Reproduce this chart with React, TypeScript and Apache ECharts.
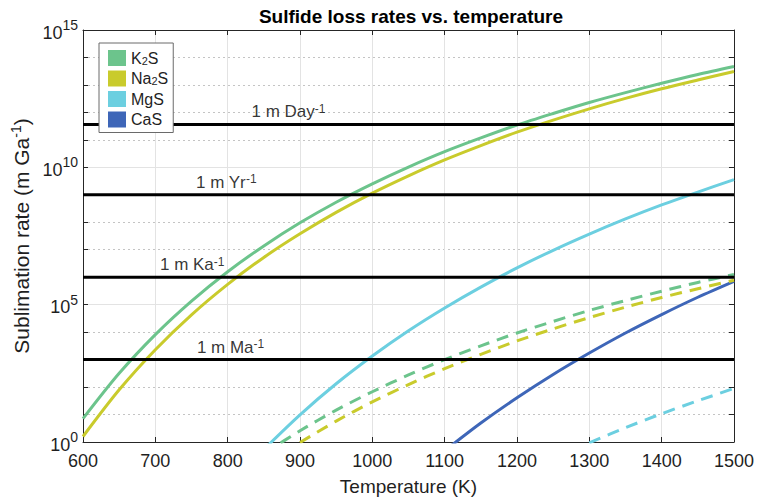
import React, { useEffect, useRef } from "react";
import * as echarts from "echarts";

// Temperatures (K)
const temps = [600, 650, 700, 750, 800, 850, 900, 950, 1000, 1050, 1100, 1150, 1200, 1250, 1300, 1350, 1400, 1450, 1500];
// log10 of sublimation rate (m Ga^-1)
const k2sLog = [0.85, 2.5, 3.91, 5.13, 6.2, 7.14, 7.98, 8.73, 9.4, 10.01, 10.57, 11.07, 11.54, 11.96, 12.36, 12.72, 13.06, 13.38, 13.67];
const na2sLog = [0.2, 1.9, 3.36, 4.63, 5.74, 6.72, 7.58, 8.36, 9.06, 9.69, 10.27, 10.79, 11.28, 11.72, 12.13, 12.51, 12.86, 13.18, 13.49];

const mgsTemps = [850, 900, 950, 1000, 1050, 1100, 1150, 1200, 1250, 1300, 1350, 1400, 1450, 1500];
const mgsLog = [-0.27, 0.99, 2.12, 3.13, 4.05, 4.88, 5.64, 6.34, 6.98, 7.57, 8.12, 8.63, 9.1, 9.55];

const casTemps = [1100, 1150, 1200, 1250, 1300, 1350, 1400, 1450, 1500];
const casLog = [-0.32, 0.69, 1.61, 2.46, 3.24, 3.97, 4.64, 5.27, 5.85];

const k2sDashTemps = [850, 900, 950, 1000, 1050, 1100, 1150, 1200, 1250, 1300, 1350, 1400, 1450, 1500];
const k2sDashLog = [-0.43, 0.41, 1.16, 1.83, 2.44, 3.0, 3.5, 3.97, 4.39, 4.79, 5.15, 5.49, 5.81, 6.1];

const na2sDashTemps = [900, 950, 1000, 1050, 1100, 1150, 1200, 1250, 1300, 1350, 1400, 1450, 1500];
const na2sDashLog = [-0.02, 0.76, 1.46, 2.09, 2.67, 3.19, 3.68, 4.12, 4.53, 4.91, 5.26, 5.58, 5.89];

const mgsDashTemps = [1300, 1350, 1400, 1450, 1500];
const mgsDashLog = [-0.03, 0.52, 1.03, 1.5, 1.95];

// Reference rates
const refNames = ["Day", "Yr", "Ka", "Ma"];
const refValues = [3.6525e11, 1e9, 1e6, 1e3];
const refLabelTemps = [884, 798, 751, 804];

const legendNames = ["K2S", "Na2S", "MgS", "CaS"];
const colors = { K2S: "#6cc48c", Na2S: "#c9cb2c", MgS: "#6ccfe0", CaS: "#3e66b8" };

const FONT = "'Liberation Sans', Arial, Helvetica, sans-serif";
const TXT = "#1f1f1f";

function pts(ts: number[], logs: number[]) {
  return ts.map((t, i) => [t, Math.pow(10, logs[i])]);
}

export default function App() {
  const ref = useRef<HTMLDivElement>(null);
  useEffect(() => {
    if (!ref.current) return;
    const chart = echarts.init(ref.current, undefined, { renderer: "svg" });

    const curve = (name: string, color: string, data: number[][], dashed: boolean) => ({
      name,
      type: "line",
      data,
      smooth: 0.3,
      symbol: "none",
      clip: true,
      z: 2,
      lineStyle: { color, width: 3, type: dashed ? [12, 8] : "solid" },
      itemStyle: { color },
      emphasis: { disabled: true },
    });

    const refLines = refValues.map((v, i) => ({
      name: "ref" + refNames[i],
      type: "line",
      data: [[600, v], [1500, v]],
      symbol: "none",
      z: 3,
      lineStyle: { color: "#000", width: 3 },
      emphasis: { disabled: true },
    }));

    const refLabels = {
      name: "refLabels",
      type: "scatter",
      symbolSize: 1,
      z: 4,
      itemStyle: { color: "rgba(0,0,0,0)" },
      data: refValues.map((v, i) => ({
        value: [refLabelTemps[i], v],
        label: {
          show: true,
          position: "top",
          distance: 3,
          formatter: `{a|1 m ${refNames[i]}}{s|-1}`,
          rich: {
            a: { fontSize: 17, lineHeight: 18, color: "#000", fontFamily: FONT },
            s: { fontSize: 12, lineHeight: 11, verticalAlign: "top", color: "#000", fontFamily: FONT },
          },
        },
      })),
    };

    const xCommon = {
      type: "value",
      min: 600,
      max: 1500,
      interval: 100,
      axisLine: { show: true, lineStyle: { color: "#262626", width: 1 } },
      axisTick: { show: true, inside: true, length: 5, lineStyle: { color: "#262626" } },
    };
    const yCommon = {
      type: "log",
      logBase: 10,
      min: 1,
      max: 1e15,
    };

    chart.setOption({
      animation: false,
      textStyle: { fontFamily: FONT },
      grid: { left: 83, right: 19, top: 30, bottom: 58, containLabel: false },
      graphic: [
        {
          type: "text",
          x: 411,
          y: 16,
          style: {
            text: "Sulfide loss rates vs. temperature",
            align: "center",
            verticalAlign: "middle",
            font: `bold 19px ${FONT}`,
            fill: "#000",
          },
        },
      ],
      legend: {
        data: legendNames,
        orient: "vertical",
        left: 99,
        top: 43,
        padding: [7, 5, 5, 9],
        itemGap: 4.5,
        itemWidth: 18,
        itemHeight: 16,
        icon: "rect",
        backgroundColor: "#fff",
        borderColor: "#6a6a6a",
        borderWidth: 1,
        selectedMode: false,
        formatter: (name: string) => {
          const m: Record<string, string> = {
            K2S: "{a|K}{b|2}{a|S}",
            Na2S: "{a|Na}{b|2}{a|S}",
            MgS: "{a|MgS}",
            CaS: "{a|CaS}",
          };
          return m[name];
        },
        textStyle: {
          color: TXT,
          rich: {
            a: { fontSize: 16, lineHeight: 16, color: TXT, fontFamily: FONT },
            b: { fontSize: 11, lineHeight: 7, verticalAlign: "bottom", color: TXT, fontFamily: FONT },
          },
        },
      },
      xAxis: [
        {
          ...xCommon,
          position: "bottom",
          name: "Temperature (K)",
          nameLocation: "middle",
          nameGap: 35,
          nameTextStyle: { fontSize: 19, color: TXT, fontFamily: FONT },
          axisLabel: { fontSize: 18, color: TXT, margin: 10, fontFamily: FONT, formatter: (v: number) => String(v) },
          splitLine: { show: true, lineStyle: { color: "#e3e3e3", width: 1 } },
        },
        {
          ...xCommon,
          position: "top",
          axisLabel: { show: false },
          splitLine: { show: false },
        },
      ],
      yAxis: [
        {
          ...yCommon,
          interval: 1,
          position: "left",
          name: "{a|Sublimation rate (m Ga}{s|-1}{a|)}",
          nameLocation: "middle",
          nameGap: 49,
          nameTextStyle: {
            rich: {
              a: { fontSize: 21, lineHeight: 24, color: TXT, fontFamily: FONT },
              s: { fontSize: 14, lineHeight: 12, verticalAlign: "top", color: TXT, fontFamily: FONT },
            },
          },
          axisLine: { show: true, lineStyle: { color: "#262626", width: 1 } },
          axisTick: { show: true, inside: true, length: 5, lineStyle: { color: "#262626" } },
          axisLabel: {
            margin: 5,
            formatter: (v: number) => {
              const e = Math.round(Math.log10(v));
              return e % 5 === 0 ? `{b|10}{s|${e}}` : "";
            },
            rich: {
              b: { fontSize: 18, lineHeight: 24, color: TXT, fontFamily: FONT, padding: [5, 0, 0, 0] },
              s: { fontSize: 14, lineHeight: 13, verticalAlign: "top", color: TXT, fontFamily: FONT },
            },
          },
          splitLine: { show: true, lineStyle: { color: "#c4c4c4", width: 1, type: [2, 3] } },
        },
        {
          ...yCommon,
          interval: 1,
          position: "right",
          axisLine: { show: true, lineStyle: { color: "#262626", width: 1 } },
          axisTick: { show: true, inside: true, length: 5, lineStyle: { color: "#262626" } },
          axisLabel: { show: false },
          splitLine: { show: false },
        },
        {
          ...yCommon,
          interval: 5,
          position: "left",
          axisLine: { show: false },
          axisTick: { show: false },
          axisLabel: { show: false },
          splitLine: { show: true, lineStyle: { color: "#e3e3e3", width: 1 } },
        },
      ],
      series: [
        curve("K2S", colors.K2S, pts(temps, k2sLog), false),
        curve("Na2S", colors.Na2S, pts(temps, na2sLog), false),
        curve("MgS", colors.MgS, pts(mgsTemps, mgsLog), false),
        curve("CaS", colors.CaS, pts(casTemps, casLog), false),
        curve("K2S dashed", colors.K2S, pts(k2sDashTemps, k2sDashLog), true),
        curve("Na2S dashed", colors.Na2S, pts(na2sDashTemps, na2sDashLog), true),
        curve("MgS dashed", colors.MgS, pts(mgsDashTemps, mgsDashLog), true),
        ...refLines,
        refLabels,
      ],
    });
    return () => chart.dispose();
  }, []);
  return <div ref={ref} style={{ position: "absolute", left: 0, top: 0, width: 757, height: 501 }} />;
}
